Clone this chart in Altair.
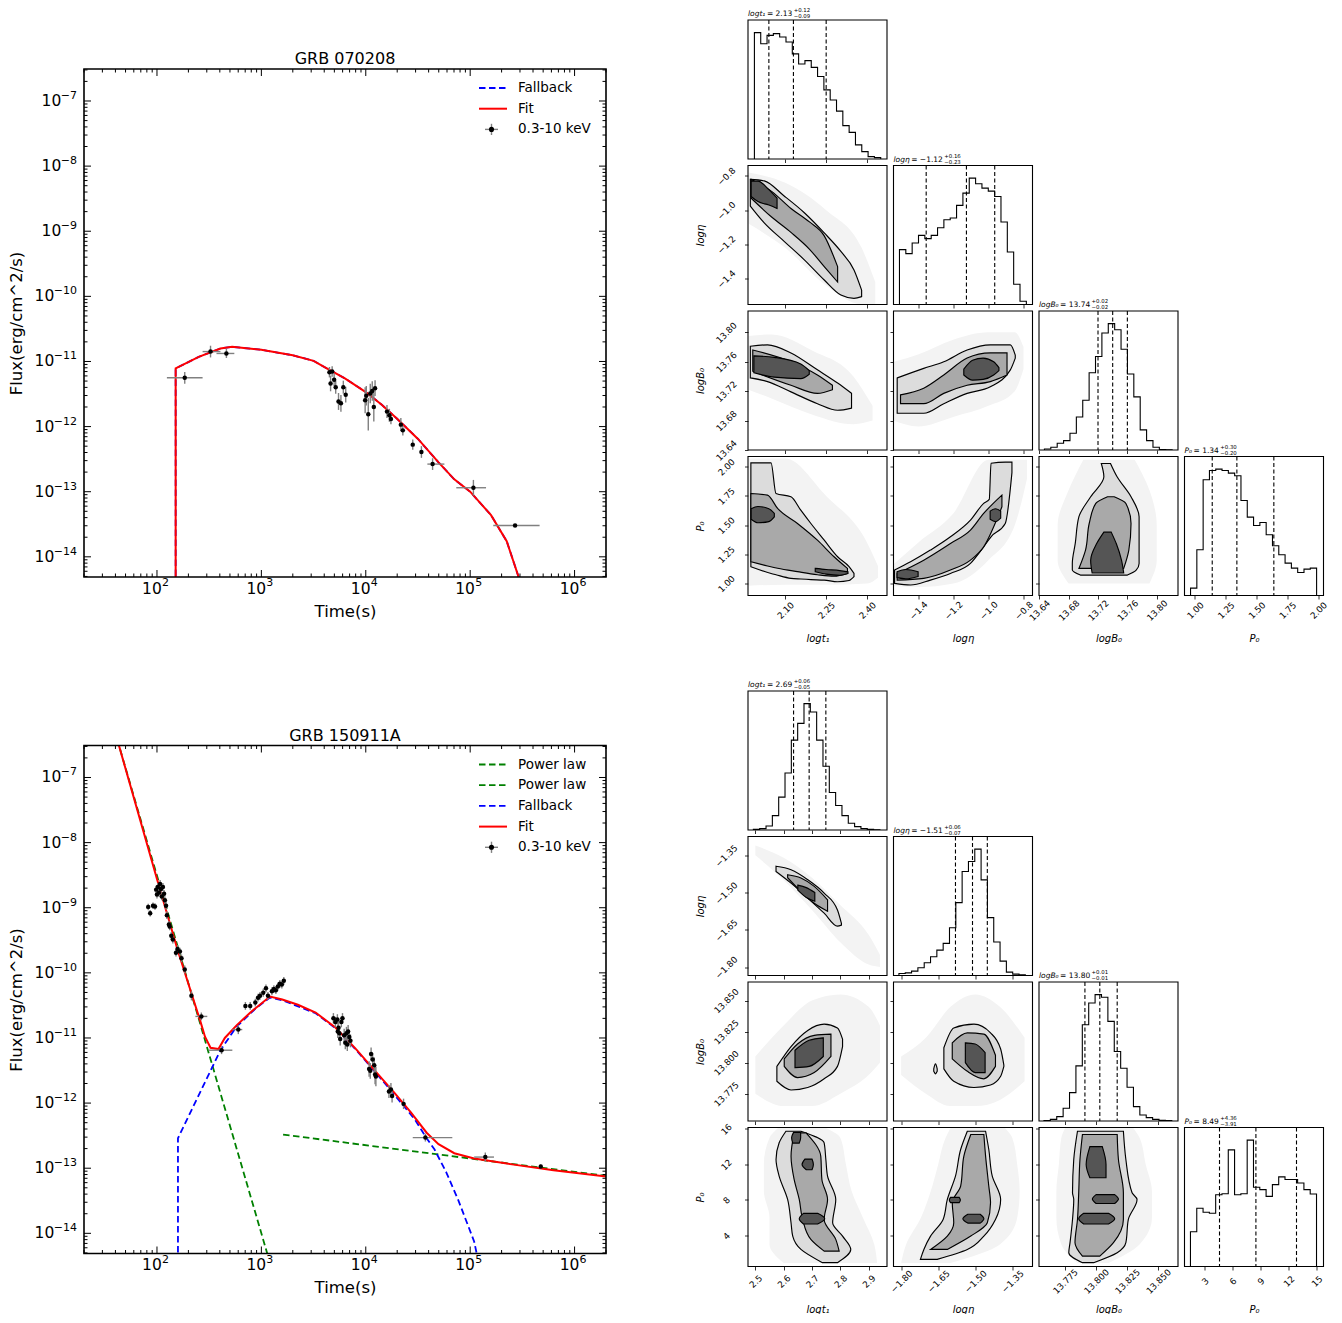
import altair as alt
import numpy as np
import pandas as pd

FONT = "DejaVu Sans"
GREY = "#808080"

# ============ light curves: values are log10(t [s]) and log10(F) ============
# GRB 070208 data points
LC1_LOGT = [2.266, 2.513, 2.665, 3.652, 3.663, 3.678, 3.697, 3.712, 3.739, 3.762, 3.785, 3.808,
            3.994, 4.005, 4.024, 4.043, 4.062, 4.077, 4.089, 4.203, 4.226, 4.241, 4.336, 4.355,
            4.450, 4.533, 4.640, 5.031, 5.430]
LC1_LOGF = [-11.251, -10.848, -10.877, -11.165, -11.338, -11.154, -11.280, -11.395, -11.614, -11.643, -11.395, -11.510,
            -11.597, -11.528, -11.810, -11.493, -11.453, -11.700, -11.410, -11.770, -11.827, -11.885, -11.970, -12.058,
            -12.277, -12.390, -12.576, -12.939, -13.520]
LC1_YERR = [0.09, 0.09, 0.07, 0.08, 0.12, 0.08, 0.10, 0.10, 0.13, 0.13, 0.10, 0.12,
            0.20, 0.15, 0.25, 0.15, 0.15, 0.22, 0.12, 0.10, 0.10, 0.08, 0.10, 0.08,
            0.08, 0.09, 0.09, 0.12, 0.0]
# horizontal error bars: (log t_lo, log t_hi, log F)
LC1_XBAR = [(2.095, 2.437, -11.251), (2.437, 2.608, -10.848), (2.570, 2.741, -10.877),
            (4.590, 4.753, -12.576), (4.867, 5.152, -12.939), (5.221, 5.665, -13.520)]
# model curves
LC1_FIT = [(2.179, -14.6), (2.179, -11.107), (2.40, -10.93), (2.608, -10.80), (2.72, -10.775), (3.0, -10.82),
           (3.3, -10.905), (3.5, -10.99), (3.652, -11.13), (3.8, -11.26), (4.0, -11.47), (4.15, -11.66),
           (4.3, -11.88), (4.5, -12.19), (4.697, -12.55), (4.848, -12.81), (5.0, -13.0), (5.2, -13.36),
           (5.35, -13.76), (5.46, -14.29), (5.5, -14.6)]
LC1_FALLBACK = LC1_FIT

# GRB 150911A data points
LC2_LOGT = [1.916, 1.935, 1.962, 1.981, 1.992, 2.000, 2.008, 2.019, 2.030, 2.038, 2.046, 2.057, 2.068, 2.076,
            2.087, 2.095, 2.114, 2.122, 2.137, 2.152, 2.182, 2.197, 2.220, 2.235, 2.266, 2.330,
            2.425, 2.619, 2.779,
            2.847, 2.893, 2.942, 2.968, 2.987, 3.018, 3.044, 3.063, 3.101, 3.120, 3.139, 3.158, 3.177, 3.196, 3.215,
            3.690, 3.709, 3.728, 3.732, 3.739, 3.747, 3.755, 3.766, 3.777, 3.793, 3.804, 3.815, 3.823, 3.831, 3.842, 3.853,
            4.032, 4.043, 4.051, 4.066, 4.081, 4.089, 4.097, 4.222, 4.241, 4.252, 4.362,
            4.571, 5.145, 5.676]
LC2_LOGF = [-8.987, -9.085, -8.970, -8.982, -8.722, -8.797, -8.682, -8.768, -8.636, -8.711, -8.826, -8.682, -8.786, -8.884,
            -8.970, -9.114, -9.258, -9.287, -9.431, -9.488, -9.690, -9.633, -9.673, -9.777, -9.949, -10.353,
            -10.669, -11.188, -10.871,
            -10.508, -10.508, -10.456, -10.381, -10.353, -10.306, -10.237, -10.353, -10.283, -10.249, -10.266, -10.209, -10.168, -10.180, -10.122,
            -10.698, -10.756, -10.715, -10.900, -10.842, -10.929, -11.015, -10.756, -10.698, -10.957, -11.073, -10.929, -11.101, -10.900, -10.986, -11.044,
            -11.476, -11.505, -11.245, -11.332, -11.418, -11.562, -11.591, -11.821, -11.793, -11.891, -12.012,
            -12.530, -12.829, -12.974]
LC2_YERR = [0.05] * 4 + [0.06] * 21 + [0.07,
            0.06, 0.06, 0.07] + [0.06] * 15 + [0.08, 0.08, 0.08, 0.10, 0.10, 0.10, 0.10, 0.08, 0.08, 0.10, 0.10,
            0.10, 0.10, 0.10, 0.10, 0.10,
            0.12, 0.12, 0.10, 0.10, 0.12, 0.15, 0.15, 0.10, 0.10, 0.10, 0.08,
            0.06, 0.07, 0.03]
LC2_XBAR = [(2.368, 2.482, -10.669), (2.494, 2.722, -11.188), (2.722, 2.817, -10.871),
            (4.450, 4.829, -12.530), (5.038, 5.228, -12.829)]
LC2_FIT = [(1.62, -6.42), (2.0, -8.56), (2.2, -9.66), (2.418, -10.756), (2.46, -10.98), (2.513, -11.15),
           (2.589, -11.17), (2.65, -11.0), (2.76, -10.81), (2.9, -10.6), (3.082, -10.364), (3.2, -10.41),
           (3.35, -10.49), (3.52, -10.61), (3.709, -10.84), (3.90, -11.16), (4.089, -11.505), (4.279, -11.85),
           (4.43, -12.14), (4.583, -12.455), (4.697, -12.63), (4.848, -12.77), (5.038, -12.85), (5.418, -12.945),
           (5.798, -13.03), (6.31, -13.13)]
LC2_FALLBACK = [(2.201, -14.6), (2.201, -12.54), (2.608, -11.188), (2.76, -10.83), (2.95, -10.54), (3.082, -10.38),
                (3.2, -10.42), (3.52, -10.62), (3.709, -10.85), (3.90, -11.17), (4.089, -11.52), (4.279, -11.88),
                (4.469, -12.25), (4.583, -12.54), (4.659, -12.714), (4.77, -13.06), (4.886, -13.49), (5.038, -14.125),
                (5.10, -14.6)]
LC2_PL1 = [(1.62, -6.42), (3.10, -14.55)]
LC2_PL2 = [(3.208, -12.484), (6.31, -13.12)]

# tick labels: "10" with a superscript exponent
X_TICK_VALUES = [1e2, 1e3, 1e4, 1e5, 1e6]
X_TICK_EXP = ["2", "3", "4", "5", "6"]
Y_TICK_VALUES = [1e-7, 1e-8, 1e-9, 1e-10, 1e-11, 1e-12, 1e-13, 1e-14]
Y_TICK_EXP = ["−7", "−8", "−9", "−10", "−11", "−12", "−13", "−14"]

LC1_LEGEND = [("Fallback", "#0000ff", "dash"), ("Fit", "#ff0000", "solid"), ("0.3-10 keV", "black", "point")]
LC2_LEGEND = [("Power law", "#008000", "dash"), ("Power law", "#008000", "dash"), ("Fallback", "#0000ff", "dash"),
              ("Fit", "#ff0000", "solid"), ("0.3-10 keV", "black", "point")]

# ============ corner plots ============
TOP_PARAMS = [
    dict(name="logt₁", xdom=[1.9635, 2.473], ydom=[1.9635, 2.473], xticks=[2.10, 2.25, 2.40], yticks=[2.10, 2.25, 2.40], fmt=".2f", xfmt=".2f"),
    dict(name="logη", xdom=[-1.54, -0.749], ydom=[-1.551, -0.739], xticks=[-1.4, -1.2, -1.0, -0.8], yticks=[-1.4, -1.2, -1.0, -0.8], fmt=".1f", xfmt=".1f"),
    dict(name="logB₀", xdom=[13.6396, 13.829], ydom=[13.64, 13.829], xticks=[13.64, 13.68, 13.72, 13.76, 13.80], yticks=[13.64, 13.68, 13.72, 13.76, 13.80], fmt=".2f", xfmt=".2f"),
    dict(name="P₀", xdom=[0.915, 2.043], ydom=[0.897, 2.088], xticks=[1.0, 1.25, 1.5, 1.75, 2.0], yticks=[1.0, 1.25, 1.5, 1.75, 2.0], fmt=".2f", xfmt=".2f"),
]
BOT_PARAMS = [
    dict(name="logt₁", xdom=[2.474, 2.965], ydom=[2.474, 2.965], xticks=[2.5, 2.6, 2.7, 2.8, 2.9], yticks=[2.5, 2.6, 2.7, 2.8, 2.9], fmt=".1f", xfmt=".1f"),
    dict(name="logη", xdom=[-1.831, -1.268], ydom=[-1.834, -1.274], xticks=[-1.80, -1.65, -1.50, -1.35], yticks=[-1.80, -1.65, -1.50, -1.35], fmt=".2f", xfmt=".2f"),
    dict(name="logB₀", xdom=[13.754, 13.866], ydom=[13.753, 13.865], xticks=[13.775, 13.800, 13.825, 13.850], yticks=[13.775, 13.800, 13.825, 13.850], fmt=".3f", xfmt=".3f"),
    dict(name="P₀", xdom=[0.82, 15.75], ydom=[0.52, 16.15], xticks=[3, 6, 9, 12, 15], yticks=[4, 8, 12, 16], fmt="d", xfmt="d"),
]

# 1-D histograms (20 bins): counts, sample range, 16/50/84 % quantiles, title pieces
TOP_HIST = [
    dict(counts=[375, 342, 367, 372, 362, 347, 312, 282, 292, 272, 245, 205, 175, 142, 99, 79, 42, 22, 7, 4],
         rng=[1.987, 2.450], q=[2.04, 2.13, 2.25], title=("logt₁", " = 2.13", "+0.12", "−0.09")),
    dict(counts=[165, 153, 185, 208, 198, 208, 231, 255, 260, 298, 335, 380, 363, 350, 341, 325, 248, 158, 61, 10],
         rng=[-1.506, -0.784], q=[-1.354, -1.125, -0.964], title=("logη", " = −1.12", "+0.16", "−0.23")),
    dict(counts=[3, 8, 20, 28, 50, 98, 148, 230, 278, 348, 376, 358, 300, 226, 158, 60, 28, 8, 1, 0.5],
         rng=[13.647, 13.821], q=[13.72, 13.74, 13.76], title=("logB₀", " = 13.74", "+0.02", "−0.02")),
    dict(counts=[22, 137, 347, 375, 379, 375, 367, 359, 285, 235, 210, 219, 182, 149, 122, 97, 82, 69, 79, 82],
         rng=[0.964, 1.987], q=[1.14, 1.34, 1.64], title=("P₀", " = 1.34", "+0.30", "−0.20")),
]
BOT_HIST = [
    dict(counts=[2, 4, 12, 43, 98, 170, 268, 318, 377, 352, 268, 190, 112, 73, 43, 20, 10, 4, 2, 0.5],
         rng=[2.493, 2.940], q=[2.635, 2.69, 2.749], title=("logt₁", " = 2.69", "+0.06", "−0.05")),
    dict(counts=[6, 8, 13, 23, 38, 56, 76, 96, 143, 218, 311, 341, 378, 286, 173, 100, 43, 10, 4, 2],
         rng=[-1.809, -1.297], q=[-1.580, -1.511, -1.451], title=("logη", " = −1.51", "+0.06", "−0.07")),
    dict(counts=[1, 5, 13, 38, 85, 165, 288, 353, 378, 370, 298, 208, 158, 101, 43, 18, 10, 5, 2, 1],
         rng=[13.758, 13.861], q=[13.791, 13.803, 13.817], title=("logB₀", " = 13.80", "+0.01", "−0.01")),
    dict(counts=[103, 173, 161, 158, 213, 216, 346, 213, 216, 375, 235, 228, 208, 243, 266, 258, 258, 248, 228, 215],
         rng=[1.46, 15.0], q=[4.58, 8.49, 12.85], title=("P₀", " = 8.49", "+4.36", "−3.91")),
]

# 2-D panels: each level is a list of pieces; each piece is a list of (position, low, high)
# orient "v": position along x, low/high along y ; orient "h": position along y, low/high along x
TOP_P10 = dict(orient="v",
    halo=[[(1.966, -1.08, -0.78), (2.10, -1.22, -0.84), (2.25, -1.44, -1.0), (2.38, -1.55, -1.22), (2.43, -1.55, -1.42)]],
    outer=[[(1.972, -0.976, -0.820), (2.023, -1.074, -0.829), (2.096, -1.182, -0.917), (2.170, -1.290, -1.015),
            (2.243, -1.408, -1.133), (2.304, -1.496, -1.241), (2.352, -1.515, -1.349), (2.380, -1.505, -1.467)]],
    middle=[[(1.975, -0.93, -0.82), (2.05, -1.04, -0.89), (2.121, -1.13, -0.99), (2.19, -1.23, -1.07),
             (2.243, -1.33, -1.15), (2.292, -1.42, -1.33)]],
    inner=[[(1.975, -0.92, -0.83), (2.0, -0.95, -0.83), (2.04, -0.97, -0.88), (2.07, -0.99, -0.93)]])
TOP_P20 = dict(orient="v",
    halo=[[(1.966, 13.722, 13.795), (2.05, 13.71, 13.797), (2.2, 13.688, 13.775), (2.35, 13.675, 13.74), (2.42, 13.68, 13.70)]],
    outer=[[(1.972, 13.738, 13.781), (2.035, 13.733, 13.783), (2.121, 13.719, 13.772), (2.218, 13.703, 13.749),
            (2.292, 13.694, 13.731), (2.343, 13.697, 13.717)]],
    middle=[[(1.981, 13.747, 13.776), (2.121, 13.728, 13.760), (2.218, 13.717, 13.742), (2.273, 13.722, 13.728)]],
    inner=[[(1.985, 13.745, 13.768), (2.06, 13.739, 13.766), (2.157, 13.737, 13.757), (2.188, 13.743, 13.748)]])
TOP_P30 = dict(orient="v",
    halo=[[(1.966, 0.98, 2.07), (2.1, 0.99, 2.07), (2.25, 0.99, 1.75), (2.4, 1.0, 1.35), (2.44, 1.05, 1.15)]],
    outer=[[(1.974, 1.144, 2.034), (2.048, 1.086, 2.034), (2.066, 1.075, 1.771), (2.121, 1.044, 1.743), (2.157, 1.038, 1.628),
            (2.194, 1.033, 1.514), (2.243, 1.029, 1.371), (2.292, 1.015, 1.229), (2.334, 1.025, 1.144), (2.352, 1.058, 1.086)]],
    middle=[[(1.974, 1.186, 1.771), (2.035, 1.15, 1.757), (2.072, 1.13, 1.643), (2.145, 1.101, 1.514), (2.218, 1.075, 1.371),
             (2.279, 1.062, 1.229), (2.328, 1.086, 1.129)]],
    inner=[[(2.21, 1.10, 1.13), (2.25, 1.08, 1.12), (2.30, 1.07, 1.11), (2.33, 1.085, 1.10)],
           [(1.975, 1.55, 1.64), (2.0, 1.52, 1.66), (2.04, 1.53, 1.64), (2.06, 1.57, 1.60)]])
TOP_P21 = dict(orient="v",
    halo=[[(-1.54, 13.68, 13.76), (-1.4, 13.672, 13.77), (-1.2, 13.685, 13.79), (-1.0, 13.70, 13.80), (-0.85, 13.72, 13.80), (-0.80, 13.75, 13.78)]],
    outer=[[(-1.519, 13.690, 13.738), (-1.368, 13.690, 13.751), (-1.254, 13.703, 13.760), (-1.121, 13.717, 13.776),
            (-0.989, 13.726, 13.783), (-0.875, 13.749, 13.783), (-0.847, 13.765, 13.769)]],
    middle=[[(-1.50, 13.703, 13.715), (-1.368, 13.703, 13.724), (-1.254, 13.717, 13.742), (-1.121, 13.728, 13.765),
             (-0.989, 13.733, 13.772), (-0.894, 13.742, 13.772)]],
    inner=[[(-1.14, 13.742, 13.75), (-1.09, 13.735, 13.762), (-1.03, 13.736, 13.765), (-0.97, 13.742, 13.76), (-0.94, 13.748, 13.752)]])
TOP_P31 = dict(orient="v",
    halo=[[(-1.55, 0.98, 1.15), (-1.4, 0.97, 1.35), (-1.2, 1.0, 1.6), (-1.0, 1.2, 2.06), (-0.85, 1.5, 2.06), (-0.78, 1.9, 2.06)]],
    outer=[[(-1.534, 1.001, 1.115), (-1.443, 0.987, 1.186), (-1.330, 1.029, 1.286), (-1.216, 1.086, 1.400), (-1.102, 1.172, 1.543),
            (-1.027, 1.314, 1.686), (-0.995, 1.38, 1.72), (-0.985, 1.40, 2.03), (-0.904, 1.514, 2.04), (-0.866, 1.95, 2.04)]],
    middle=[[(-1.519, 1.029, 1.086), (-1.368, 1.044, 1.20), (-1.216, 1.115, 1.343), (-1.102, 1.20, 1.457),
             (-1.027, 1.314, 1.60), (-0.923, 1.657, 1.757)]],
    inner=[[(-1.52, 1.05, 1.10), (-1.47, 1.04, 1.12), (-1.40, 1.06, 1.10)],
           [(-0.99, 1.55, 1.62), (-0.96, 1.53, 1.64), (-0.93, 1.56, 1.62)]])
TOP_P32 = dict(orient="h",
    halo=[[(1.0, 13.68, 13.79), (1.2, 13.665, 13.80), (1.5, 13.665, 13.80), (1.8, 13.68, 13.79), (2.06, 13.70, 13.77)]],
    outer=[[(1.072, 13.696, 13.760), (1.115, 13.685, 13.772), (1.172, 13.685, 13.776), (1.343, 13.689, 13.776),
            (1.572, 13.694, 13.776), (1.743, 13.710, 13.765), (1.914, 13.728, 13.746), (2.028, 13.7245, 13.737)]],
    middle=[[(1.129, 13.694, 13.755), (1.286, 13.703, 13.762), (1.514, 13.708, 13.765), (1.686, 13.717, 13.758), (1.743, 13.733, 13.742)]],
    inner=[[(1.09, 13.712, 13.755), (1.2, 13.71, 13.752), (1.34, 13.718, 13.745), (1.44, 13.728, 13.738)]])

BOT_P10 = dict(orient="v",
    halo=[[(2.50, -1.35, -1.31), (2.6, -1.45, -1.36), (2.7, -1.57, -1.44), (2.8, -1.70, -1.55), (2.9, -1.79, -1.67), (2.94, -1.80, -1.75)]],
    outer=[[(2.573, -1.415, -1.394), (2.626, -1.462, -1.408), (2.685, -1.522, -1.448), (2.743, -1.583, -1.502),
            (2.790, -1.635, -1.570), (2.804, -1.631, -1.624)]],
    middle=[[(2.614, -1.440, -1.428), (2.661, -1.496, -1.441), (2.708, -1.543, -1.475), (2.755, -1.575, -1.529)]],
    inner=[[(2.65, -1.49, -1.47), (2.68, -1.52, -1.48), (2.71, -1.535, -1.50)]])
BOT_P20 = dict(orient="v",
    halo=[[(2.50, 13.775, 13.805), (2.6, 13.765, 13.83), (2.7, 13.765, 13.85), (2.8, 13.775, 13.855), (2.9, 13.79, 13.845), (2.94, 13.80, 13.83)]],
    outer=[[(2.576, 13.785, 13.797), (2.626, 13.778, 13.813), (2.685, 13.780, 13.826), (2.743, 13.787, 13.831),
            (2.790, 13.797, 13.828), (2.808, 13.813, 13.819)]],
    middle=[[(2.602, 13.797, 13.803), (2.649, 13.788, 13.815), (2.708, 13.792, 13.822), (2.767, 13.805, 13.823)]],
    inner=[[(2.64, 13.796, 13.81), (2.69, 13.797, 13.818), (2.74, 13.805, 13.82)]])
BOT_P30 = dict(orient="h",
    halo=[[(0.9, 2.60, 2.93), (3, 2.55, 2.92), (6, 2.55, 2.88), (9, 2.53, 2.84), (12, 2.53, 2.82), (15, 2.55, 2.80), (16.1, 2.58, 2.75)]],
    outer=[[(0.95, 2.737, 2.790), (2.44, 2.661, 2.837), (3.94, 2.632, 2.808), (5.44, 2.626, 2.773), (8.06, 2.614, 2.784),
            (10.68, 2.584, 2.755), (12.55, 2.573, 2.749), (14.43, 2.584, 2.743), (15.73, 2.608, 2.661)]],
    middle=[[(2.25, 2.743, 2.796), (3.57, 2.696, 2.784), (5.81, 2.667, 2.743), (8.06, 2.655, 2.755), (10.31, 2.637, 2.735),
             (12.93, 2.626, 2.731), (15.55, 2.637, 2.679)]],
    inner=[[(5.3, 2.67, 2.72), (5.9, 2.655, 2.745), (6.5, 2.67, 2.72)],
           [(14.4, 2.632, 2.655), (15.0, 2.628, 2.66), (15.6, 2.635, 2.66)],
           [(11.4, 2.68, 2.70), (12.0, 2.665, 2.705), (12.6, 2.675, 2.70)]])
BOT_P21 = dict(orient="v",
    halo=[[(-1.80, 13.79, 13.805), (-1.7, 13.775, 13.82), (-1.6, 13.765, 13.845), (-1.5, 13.765, 13.855), (-1.4, 13.77, 13.845), (-1.3, 13.785, 13.82)]],
    outer=[[(-1.627, 13.795, 13.812), (-1.587, 13.785, 13.828), (-1.505, 13.780, 13.831), (-1.438, 13.782, 13.824),
            (-1.397, 13.789, 13.811), (-1.384, 13.797, 13.798)],
           [(-1.668, 13.793, 13.795), (-1.661, 13.791, 13.799), (-1.654, 13.793, 13.795)]],
    middle=[[(-1.593, 13.803, 13.816), (-1.532, 13.793, 13.824), (-1.465, 13.787, 13.823), (-1.418, 13.797, 13.806)]],
    inner=[[(-1.54, 13.800, 13.816), (-1.50, 13.792, 13.815), (-1.46, 13.792, 13.808)]])
BOT_P31 = dict(orient="h",
    halo=[[(0.9, -1.80, -1.60), (3, -1.78, -1.40), (6, -1.72, -1.33), (9, -1.68, -1.32), (12, -1.65, -1.33), (15, -1.62, -1.35), (16.1, -1.6, -1.38)]],
    outer=[[(1.32, -1.722, -1.654), (2.44, -1.708, -1.532), (3.94, -1.681, -1.465), (5.81, -1.630, -1.418), (8.06, -1.613, -1.397),
            (10.68, -1.580, -1.431), (13.68, -1.559, -1.445), (15.73, -1.532, -1.458)]],
    middle=[[(2.44, -1.681, -1.613), (3.94, -1.613, -1.518), (5.44, -1.587, -1.451), (7.69, -1.593, -1.438), (9.56, -1.559, -1.445),
             (12.93, -1.546, -1.458), (15.36, -1.518, -1.465)]],
    inner=[[(5.4, -1.53, -1.48), (5.9, -1.55, -1.465), (6.4, -1.53, -1.48)],
           [(7.7, -1.60, -1.565), (8.0, -1.605, -1.56), (8.3, -1.60, -1.565)]])
BOT_P32 = dict(orient="h",
    halo=[[(0.9, 13.785, 13.81), (3, 13.772, 13.835), (6, 13.768, 13.845), (9, 13.768, 13.845), (12, 13.77, 13.84), (15, 13.772, 13.835), (16.1, 13.775, 13.83)]],
    outer=[[(0.95, 13.789, 13.798), (2.07, 13.778, 13.817), (3.20, 13.779, 13.824), (5.81, 13.781, 13.826), (8.06, 13.782, 13.833),
            (8.81, 13.781, 13.829), (12.55, 13.782, 13.824), (15.73, 13.785, 13.822)]],
    middle=[[(1.69, 13.789, 13.803), (3.20, 13.783, 13.814), (5.81, 13.785, 13.822), (8.81, 13.786, 13.822), (12.55, 13.787, 13.818),
             (15.36, 13.789, 13.817)]],
    inner=[[(5.3, 13.79, 13.81), (5.9, 13.786, 13.815), (6.5, 13.79, 13.81)],
           [(7.6, 13.80, 13.815), (8.1, 13.797, 13.818), (8.6, 13.80, 13.815)],
           [(10.5, 13.795, 13.808), (12.0, 13.792, 13.808), (14.0, 13.795, 13.805)]])

TOP_PANELS = {(1, 0): TOP_P10, (2, 0): TOP_P20, (3, 0): TOP_P30, (2, 1): TOP_P21, (3, 1): TOP_P31, (3, 2): TOP_P32}
BOT_PANELS = {(1, 0): BOT_P10, (2, 0): BOT_P20, (3, 0): BOT_P30, (2, 1): BOT_P21, (3, 1): BOT_P31, (3, 2): BOT_P32}

# ---------------------------------------------------------------------------------------------
ONE = pd.DataFrame({"a": [0]})
CW = {'0': .636, '1': .636, '2': .636, '3': .636, '4': .636, '5': .636, '6': .636, '7': .636, '8': .636, '9': .636,
      '.': .318, ' ': .318, '=': .838, '−': .838, '+': .838, 'l': .278, 'o': .612, 'g': .635, 't': .392,
      'η': .634, 'B': .686, 'P': .603, '₀': .4, '₁': .4}


def tw(s, size):
    return sum(CW.get(ch, 0.6) for ch in s) * size


def light_curve(title, logt, logf, yerr, xbar, curves, legend):
    W, H = 522, 508
    xs = alt.Scale(type="log", domain=[20, 2e6], nice=False)
    ys = alt.Scale(type="log", domain=[4.9e-15, 3.1e-7], nice=False)
    xaxis = alt.Axis(values=X_TICK_VALUES, labels=False, ticks=False, domain=False,
                     grid=False, minExtent=22, maxExtent=22, titlePadding=4,
                     titleFontSize=16.5, titleFontWeight="normal")
    yaxis = alt.Axis(values=Y_TICK_VALUES, labels=False, ticks=False, domain=False,
                     grid=False, minExtent=52, maxExtent=52, titlePadding=7.5,
                     titleFontSize=16.5, titleFontWeight="normal")

    def X(f):
        return alt.X(f, scale=xs, axis=xaxis, title="Time(s)")

    def Y(f):
        return alt.Y(f, scale=ys, axis=yaxis, title="Flux(erg/cm^2/s)")

    layers = []
    for pts, color, dash, width in curves:
        df = pd.DataFrame({"t": [10 ** p[0] for p in pts], "f": [10 ** p[1] for p in pts], "k": list(range(len(pts)))})
        kw = dict(color=color, strokeWidth=width, clip=True)
        if dash:
            kw["strokeDash"] = [6.5, 3.5]
        layers.append(alt.Chart(df).mark_line(**kw).encode(x=X("t:Q"), y=Y("f:Q"), order="k:Q"))
    t = np.array(logt)
    f = np.array(logf)
    e = np.array(yerr)
    pdf = pd.DataFrame({"t": 10 ** t, "f": 10 ** f, "flo": 10 ** (f - e), "fhi": 10 ** (f + e), "e": e})
    xdf = pd.DataFrame({"tlo": [10 ** b[0] for b in xbar], "thi": [10 ** b[1] for b in xbar], "f": [10 ** b[2] for b in xbar]})
    layers.append(alt.Chart(xdf).mark_rule(color=GREY, strokeWidth=1.4).encode(x=X("tlo:Q"), x2="thi:Q", y=Y("f:Q")))
    layers.append(alt.Chart(pdf[pdf.e > 0]).mark_rule(color=GREY, strokeWidth=1.4).encode(x=X("t:Q"), y=Y("flo:Q"), y2="fhi:Q"))
    layers.append(alt.Chart(pdf).mark_circle(color="black", size=20, opacity=1).encode(x=X("t:Q"), y=Y("f:Q")))
    # inward ticks on all four sides
    major_x = X_TICK_VALUES
    minor_x = [m * 10.0 ** k for k in range(1, 7) for m in range(2, 10) if 20 <= m * 10.0 ** k <= 2e6]
    major_y = Y_TICK_VALUES
    minor_y = [m * 10.0 ** k for k in range(-15, -6) for m in range(2, 10) if 4.9e-15 <= m * 10.0 ** k <= 3.1e-7]
    for vals, L in ((major_x, 7), (minor_x, 3.5)):
        d = pd.DataFrame({"v": vals})
        layers.append(alt.Chart(d).mark_rule(color="black", strokeWidth=1).encode(
            x=X("v:Q"), y=alt.value(H), y2=alt.value(H - L)))
        layers.append(alt.Chart(d).mark_rule(color="black", strokeWidth=1).encode(
            x=X("v:Q"), y=alt.value(0), y2=alt.value(L)))
    for vals, L in ((major_y, 7), (minor_y, 3.5)):
        d = pd.DataFrame({"v": vals})
        layers.append(alt.Chart(d).mark_rule(color="black", strokeWidth=1).encode(
            y=Y("v:Q"), x=alt.value(0), x2=alt.value(L)))
        layers.append(alt.Chart(d).mark_rule(color="black", strokeWidth=1).encode(
            y=Y("v:Q"), x=alt.value(W), x2=alt.value(W - L)))
    # tick labels: "10" plus a raised exponent
    FS, ES = 15.5, 11
    xl = pd.DataFrame({"v": X_TICK_VALUES, "e": X_TICK_EXP})
    layers.append(alt.Chart(xl).mark_text(align="right", baseline="middle", fontSize=FS, color="black", dx=4.8).encode(
        x=X("v:Q"), y=alt.value(H + 11.5), text=alt.value("10")))
    layers.append(alt.Chart(xl).mark_text(align="left", baseline="middle", fontSize=ES, color="black", dx=5.0).encode(
        x=X("v:Q"), y=alt.value(H + 6), text="e:N"))
    yl = pd.DataFrame({"v": Y_TICK_VALUES, "e": Y_TICK_EXP})
    layers.append(alt.Chart(yl).mark_text(align="right", baseline="middle", fontSize=ES, color="black", dy=-5).encode(
        y=Y("v:Q"), x=alt.value(-7), text="e:N"))
    for ndig in (1, 2):
        sub = yl[yl.e.str.len() == ndig + 1]
        w = tw("−" + "0" * ndig, ES) - 0.5
        layers.append(alt.Chart(sub).mark_text(align="right", baseline="middle", fontSize=FS, color="black").encode(
            y=Y("v:Q"), x=alt.value(-7 - w), text=alt.value("10")))
    layers.append(alt.Chart(ONE).mark_rect(fillOpacity=0, stroke="black", strokeWidth=1.6).encode(
        x=alt.value(0), x2=alt.value(W), y=alt.value(0), y2=alt.value(H)))
    # legend (upper right, no frame)
    LX = 395
    for i, (lab, color, kind) in enumerate(legend):
        yy = 19 + 20.7 * i
        if kind == "point":
            layers.append(alt.Chart(ONE).mark_rule(color=GREY, strokeWidth=1.4).encode(
                x=alt.value(LX + 6), x2=alt.value(LX + 19), y=alt.value(yy)))
            layers.append(alt.Chart(ONE).mark_rule(color=GREY, strokeWidth=1.4).encode(
                x=alt.value(LX + 12.5), y=alt.value(yy - 5.6), y2=alt.value(yy + 5.6)))
            layers.append(alt.Chart(ONE).mark_circle(color="black", size=26, opacity=1).encode(
                x=alt.value(LX + 12.5), y=alt.value(yy)))
        else:
            kw = dict(color=color, strokeWidth=2 if kind == "solid" else 1.8)
            if kind == "dash":
                kw["strokeDash"] = [6.5, 3.5]
            layers.append(alt.Chart(ONE).mark_rule(**kw).encode(
                x=alt.value(LX), x2=alt.value(LX + 28), y=alt.value(yy)))
        layers.append(alt.Chart(ONE).mark_text(align="left", baseline="middle", fontSize=13.5, color="black").encode(
            x=alt.value(LX + 39), y=alt.value(yy), text=alt.value(lab)))
    return alt.layer(*layers).properties(
        width=W, height=H,
        title=alt.TitleParams(title, fontSize=16, fontWeight="normal", offset=1, color="black", anchor="middle"))


CELL = 139
LABEL_FS = 8.8
TITLE_FS = 10


def x_axis(p, bottom):
    return alt.Axis(values=p["xticks"], format=p["xfmt"], labels=bottom, labelAngle=315, labelAlign="center",
                    labelBaseline="middle", labelPadding=11, labelFontSize=LABEL_FS, tickSize=3.5, tickWidth=0.8,
                    tickColor="black", domain=False, grid=False, labelFlush=False, labelOverlap=False,
                    minExtent=28, maxExtent=28, titlePadding=9.5, titleFontSize=TITLE_FS, titleFontStyle="italic",
                    titleFontWeight="normal")


def y_axis(p, left):
    return alt.Axis(values=p["yticks"], format=p["fmt"], labels=left, labelAngle=315, labelAlign="center",
                    labelBaseline="middle", labelPadding=18.5, labelFontSize=LABEL_FS, tickSize=3.5, tickWidth=0.8,
                    tickColor="black", domain=False, grid=False, labelFlush=False, labelOverlap=False,
                    minExtent=35, maxExtent=35, titlePadding=7.5, titleFontSize=TITLE_FS, titleFontStyle="italic",
                    titleFontWeight="normal")


def frame():
    return alt.Chart(ONE).mark_rect(fillOpacity=0, stroke="black", strokeWidth=1.1).encode(
        x=alt.value(0), x2=alt.value(CELL), y=alt.value(0), y2=alt.value(CELL))


def hist_cell(p, h, bottom):
    counts = h["counts"]
    edges = np.linspace(h["rng"][0], h["rng"][1], len(counts) + 1)
    xs_ = [edges[0]] + list(edges[:-1]) + [edges[-1], edges[-1]]
    ys_ = [0] + list(counts) + [counts[-1], 0]
    df = pd.DataFrame({"x": xs_, "y": ys_, "k": list(range(len(xs_)))})
    xs = alt.Scale(domain=p["xdom"], nice=False, zero=False)
    ys = alt.Scale(domain=[0, 1.1 * max(counts)], nice=False, zero=False)
    xax = x_axis(p, bottom)
    ttl = p["name"] if bottom else None
    layers = [alt.Chart(df).mark_line(interpolate="step-after", color="black", strokeWidth=1.1, clip=True).encode(
        x=alt.X("x:Q", scale=xs, axis=xax, title=ttl), y=alt.Y("y:Q", scale=ys, axis=None), order="k:Q")]
    qdf = pd.DataFrame({"q": h["q"]})
    layers.append(alt.Chart(qdf).mark_rule(color="black", strokeWidth=1.1, strokeDash=[4, 2.5]).encode(
        x=alt.X("q:Q", scale=xs, axis=xax, title=ttl)))
    name, rest, sup, sub = h["title"]
    fs = 7.5
    x1 = tw(name, fs) + 1.5
    x2 = x1 + tw(rest, fs) - 1.0
    layers.append(alt.Chart(ONE).mark_text(align="left", baseline="alphabetic", fontSize=fs, fontStyle="italic",
                                           color="black").encode(x=alt.value(0), y=alt.value(-4), text=alt.value(name)))
    layers.append(alt.Chart(ONE).mark_text(align="left", baseline="alphabetic", fontSize=fs, color="black").encode(
        x=alt.value(x1), y=alt.value(-4), text=alt.value(rest)))
    layers.append(alt.Chart(ONE).mark_text(align="left", baseline="alphabetic", fontSize=5.4, color="black").encode(
        x=alt.value(x2), y=alt.value(-8.0), text=alt.value(sup)))
    layers.append(alt.Chart(ONE).mark_text(align="left", baseline="alphabetic", fontSize=5.4, color="black").encode(
        x=alt.value(x2), y=alt.value(-1.6), text=alt.value(sub)))
    layers.append(frame())
    return alt.layer(*layers).properties(width=CELL, height=CELL)


LEVELS = [("halo", "#f3f3f3", False), ("outer", "#dcdcdc", True), ("middle", "#a9a9a9", True), ("inner", "#555555", True)]


def panel_cell(panel, px, py, bottom, left):
    xs = alt.Scale(domain=px["xdom"], nice=False, zero=False)
    ys = alt.Scale(domain=py["ydom"], nice=False, zero=False)
    ax_x = x_axis(px, bottom)
    ax_y = y_axis(py, left)
    tx = px["name"] if bottom else None
    ty = py["name"] if left else None
    layers = []
    for lev, fill, stroked in LEVELS:
        rows = []
        for g, piece in enumerate(panel[lev]):
            for k, (c, lo, hi) in enumerate(piece):
                rows.append(dict(c=c, lo=lo, hi=hi, g=g, k=k))
        df = pd.DataFrame(rows)
        kw = dict(fill=fill, clip=True, interpolate="monotone", opacity=1)
        if stroked:
            kw.update(stroke="black", strokeWidth=1.15)
        if panel["orient"] == "v":
            kw["orient"] = "vertical"
            enc = dict(x=alt.X("c:Q", scale=xs, axis=ax_x, title=tx),
                       y=alt.Y("lo:Q", scale=ys, axis=ax_y, title=ty), y2="hi:Q")
        else:
            kw["orient"] = "horizontal"
            enc = dict(y=alt.Y("c:Q", scale=ys, axis=ax_y, title=ty),
                       x=alt.X("lo:Q", scale=xs, axis=ax_x, title=tx), x2="hi:Q")
        layers.append(alt.Chart(df).mark_area(**kw).encode(detail="g:N", **enc))
    layers.append(frame())
    return alt.layer(*layers).properties(width=CELL, height=CELL)


def blank(w, h):
    return alt.Chart(ONE).mark_point(opacity=0, size=1).encode(
        x=alt.value(w / 2), y=alt.value(h / 2)).properties(width=w, height=h)


def corner(params, hists, panels):
    cells = []
    for r in range(4):
        for c in range(4):
            if c > r:
                cells.append(blank(CELL, CELL))
            elif c == r:
                cells.append(hist_cell(params[c], hists[c], r == 3))
            else:
                cells.append(panel_cell(panels[(r, c)], params[c], params[r], r == 3, c == 0))
    return alt.concat(*cells, columns=4, spacing=6.5, bounds="flush")


lc1 = light_curve("GRB 070208", LC1_LOGT, LC1_LOGF, LC1_YERR, LC1_XBAR,
                  [(LC1_FALLBACK, "#0000ff", True, 1.8), (LC1_FIT, "#ff0000", False, 2.0)], LC1_LEGEND)
lc2 = light_curve("GRB 150911A", LC2_LOGT, LC2_LOGF, LC2_YERR, LC2_XBAR,
                  [(LC2_PL1, "#008000", True, 1.8), (LC2_PL2, "#008000", True, 1.8),
                   (LC2_FALLBACK, "#0000ff", True, 1.8), (LC2_FIT, "#ff0000", False, 2.0)], LC2_LEGEND)

left_col = alt.vconcat(blank(10, 30.5), alt.vconcat(lc1, lc2, spacing=107.5), spacing=0)
right_col = alt.vconcat(corner(TOP_PARAMS, TOP_HIST, TOP_PANELS), corner(BOT_PARAMS, BOT_HIST, BOT_PANELS), spacing=36)

chart = alt.hconcat(left_col, right_col, spacing=88).properties(padding=0, background="white").configure(
    font=FONT).configure_view(strokeWidth=0).configure_axis(labelColor="black", titleColor="black")

chart.save("out.html", embed_options={"renderer": "svg", "actions": False})
